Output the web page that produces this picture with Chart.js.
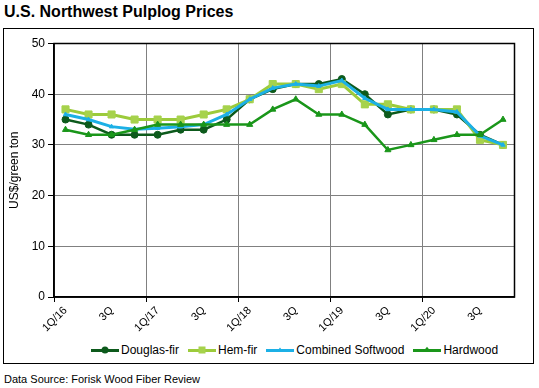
<!DOCTYPE html>
<html>
<head>
<meta charset="utf-8">
<script src="https://cdn.jsdelivr.net/npm/chart.js@4.4.1/dist/chart.umd.min.js"></script>
<style>
  body { margin: 0; background: #fff; font-family: "Liberation Sans", Arial, sans-serif; }
  #title { position: absolute; left: 4px; top: 3px; font-size: 16px; font-weight: bold; color: #000; }
  #box { position: absolute; left: 3px; top: 28px; width: 529px; height: 334px; border: 1px solid #000; }
  #wrap { position: absolute; left: 0; top: 0; width: 529px; height: 310px; }
  #legend { position: absolute; left: 87px; top: 314px; display: flex; align-items: center; font-size: 12px; color: #000; }
  .item { display: flex; align-items: center; margin-right: 9px; }
  .swatch { position: relative; width: 28px; height: 3px; margin-right: 2px; }
  .mk { position: absolute; left: 50%; top: 50%; transform: translate(-50%, -50%); }
  #source { position: absolute; left: 4px; top: 373px; font-size: 11px; color: #000; }
</style>
</head>
<body>
<div id="title">U.S. Northwest Pulplog Prices</div>
<div id="box">
  <div id="wrap"><canvas id="cPulp"></canvas></div>
  <div id="legend"></div>
</div>
<div id="source">Data Source: Forisk Wood Fiber Review</div>
<script>
const quarters   = ['1Q/16','2Q/16','3Q/16','4Q/16','1Q/17','2Q/17','3Q/17','4Q/17','1Q/18','2Q/18',
                    '3Q/18','4Q/18','1Q/19','2Q/19','3Q/19','4Q/19','1Q/20','2Q/20','3Q/20','4Q/20'];
const tickLabels = ['1Q/16','','3Q','','1Q/17','','3Q','','1Q/18','','3Q','','1Q/19','','3Q','','1Q/20','','3Q',''];
const douglasFir = [35, 34, 32, 32, 32, 33, 33, 35, 39, 41, 42, 42, 43, 40, 36, 37, 37, 36, 32, 30];
const hemFir     = [37, 36, 36, 35, 35, 35, 36, 37, 39, 42, 42, 41, 42, 38, 38, 37, 37, 37, 31, 30];
const combined   = [36, 35, 33.6, 33.1, 33.3, 33.6, 34, 36, 39, 41.2, 42, 41.6, 42.7, 39.2, 37, 37, 37, 36.5, 31.8, 30];
const hardwood   = [33, 32, 32, 33, 34, 34, 34, 34, 34, 37, 39, 36, 36, 34, 29, 30, 31, 32, 32, 35];
const yTicks     = [0, 10, 20, 30, 40, 50];

const SERIES = [
  { label: 'Douglas-fir',        data: douglasFir, color: '#0d5a1c', mark: '#0d5a1c', style: 'circle',   r: 3.5, w: 2.5, order: 4 },
  { label: 'Hem-fir',            data: hemFir,     color: '#9ccb3b', mark: '#a6d24c', style: 'rect',     r: 5,   w: 3,   order: 3 },
  { label: 'Combined Softwood',  data: combined,   color: '#1cb0e6', mark: '#1cb0e6', style: 'triangle', r: 2.5, w: 3,   order: 2 },
  { label: 'Hardwood',           data: hardwood,   color: '#1a961a', mark: '#1a961a', style: 'triangle', r: 3.5, w: 2.5, order: 1 },
];

const plotBorder = {
  id: 'plotBorder',
  beforeDatasetsDraw(chart) {
    const { ctx, chartArea: a } = chart;
    ctx.save();
    ctx.strokeStyle = '#000';
    ctx.lineWidth = 1.5;
    ctx.strokeRect(a.left, a.top, a.right - a.left, a.bottom - a.top);
    ctx.restore();
  },
};

new Chart(document.getElementById('cPulp'), {
  type: 'line',
  data: {
    labels: quarters,
    datasets: SERIES.map(s => ({
      label: s.label, data: s.data, order: s.order,
      borderColor: s.color, borderWidth: s.w, tension: 0,
      pointStyle: s.style, pointRadius: s.r, pointHoverRadius: s.r,
      pointBackgroundColor: s.mark, pointBorderColor: s.mark, pointBorderWidth: 1,
    })),
  },
  options: {
    responsive: true, maintainAspectRatio: false, animation: false,
    layout: { padding: { top: 14.5, right: 18.5, left: 0, bottom: 0 } },
    plugins: { legend: { display: false }, tooltip: { enabled: false } },
    scales: {
      x: {
        offset: true,
        grid: {
          offset: true, drawTicks: true, tickLength: 5,
          color: c => c.index % 4 === 0 ? '#808080' : 'rgba(0,0,0,0)',
          tickColor: c => c.index % 4 === 0 ? '#000' : 'rgba(0,0,0,0)',
        },
        border: { color: '#000', width: 1.5 },
        ticks: {
          autoSkip: false, maxRotation: 45, minRotation: 45, padding: 2,
          color: '#000', font: { family: 'Liberation Sans', size: 11 },
          callback: (v, i) => tickLabels[i],
        },
        afterFit: s => { s.height = 42; },
      },
      y: {
        min: 0, max: 50,
        afterBuildTicks: s => { s.ticks = yTicks.map(v => ({ value: v })); },
        grid: { color: '#808080', tickColor: '#000', tickLength: 6 },
        border: { color: '#000', width: 1.5 },
        ticks: { color: '#000', padding: 3, font: { family: 'Liberation Sans', size: 12 } },
        title: { display: true, text: 'US$/green ton', color: '#000', padding: 3, font: { family: 'Liberation Sans', size: 12 } },
        afterFit: s => { s.width = 50; },
      },
    },
  },
  plugins: [plotBorder],
});

// legend: line with marker, like the spreadsheet original
const leg = document.getElementById('legend');
SERIES.forEach(s => {
  let mk = '';
  if (s.style === 'circle')   mk = `<div class="mk" style="width:7px;height:7px;border-radius:50%;background:${s.mark}"></div>`;
  if (s.style === 'rect')     mk = `<div class="mk" style="width:7px;height:7px;background:${s.mark}"></div>`;
  if (s.style === 'triangle') mk = `<div class="mk" style="width:0;height:0;border-left:${s.r + 0.5}px solid transparent;border-right:${s.r + 0.5}px solid transparent;border-bottom:${s.r * 1.6}px solid ${s.mark};transform:translate(-50%,-65%)"></div>`;
  leg.innerHTML += `<div class="item"><div class="swatch" style="background:${s.color}">${mk}</div><span>${s.label}</span></div>`;
});
</script>
</body>
</html>
